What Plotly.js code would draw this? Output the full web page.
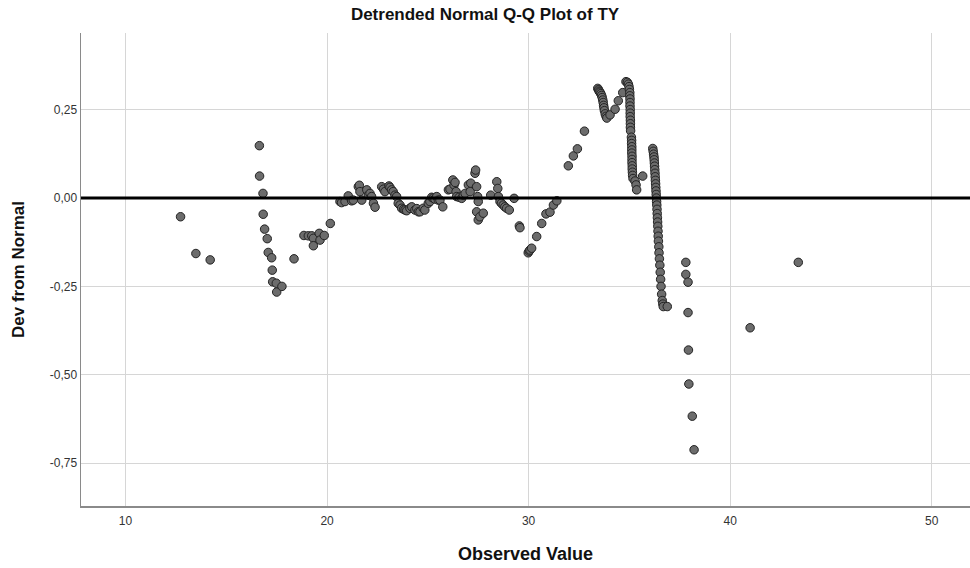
<!DOCTYPE html>
<html>
<head>
<meta charset="utf-8">
<script src="https://cdn.plot.ly/plotly-3.0.1.min.js"></script>
<style>html,body{margin:0;padding:0;background:#fff;}#chart{width:970px;height:568px;}</style>
</head>
<body>
<div id="chart"></div>
<script>
const observedValue = [
  12.73, 13.49, 14.20, 16.64, 16.65, 16.82, 16.83, 16.90, 17.03, 17.08, 17.25, 17.28, 17.30, 17.48, 17.50, 17.76,
  18.36, 18.85, 19.07, 19.24, 19.32, 19.32, 19.61, 19.65, 19.86, 20.16,
  20.64, 20.72, 20.89, 21.05, 21.22, 21.30, 21.55, 21.60, 21.63, 21.72, 21.97, 22.05, 22.13, 22.21, 22.30, 22.38,
  22.71, 22.80, 22.87, 23.07, 23.12, 23.20, 23.28, 23.37, 23.45, 23.53, 23.62, 23.70, 23.80, 23.87, 23.95,
  24.11, 24.20, 24.36, 24.45, 24.53, 24.61, 24.77, 24.85, 25.02, 25.10, 25.19, 25.27, 25.35, 25.44, 25.52, 25.60, 25.74,
  26.02, 26.10, 26.24, 26.30, 26.35, 26.40, 26.43, 26.55, 26.68, 26.76, 26.85, 27.01, 27.10, 27.13, 27.34, 27.37,
  27.42, 27.47, 27.50, 27.42, 27.50, 27.58, 27.75, 28.12, 28.42, 28.47, 28.50, 28.58, 28.65, 28.74, 28.82, 28.91,
  29.04, 29.28, 29.54, 29.57,
  29.98, 30.03, 30.07, 30.15, 30.40, 30.65, 30.86, 31.06, 31.23, 31.40, 31.97, 32.22, 32.42, 32.77,
  33.43, 33.47, 33.50, 33.54, 33.58, 33.62, 33.65, 33.68, 33.70, 33.72, 33.74, 33.76, 33.80, 33.84, 33.88,
  34.04, 34.29, 34.45, 34.67,
  34.83, 34.90, 34.95, 34.98, 35.00, 35.02, 35.02, 35.03, 35.03, 35.03, 35.04, 35.04, 35.04, 35.05, 35.05, 35.05, 35.06,
  35.10, 35.11, 35.11, 35.12, 35.12, 35.12, 35.13, 35.13, 35.13, 35.14, 35.14, 35.15, 35.16, 35.18,
  35.28, 35.33, 35.36, 35.66,
  36.16, 36.18, 36.20, 36.22, 36.23, 36.24, 36.25, 36.26, 36.27, 36.28, 36.29, 36.30, 36.31, 36.32, 36.33, 36.34,
  36.35, 36.36, 36.37, 36.38, 36.39, 36.40, 36.41, 36.42, 36.43, 36.44, 36.46, 36.47, 36.49, 36.51, 36.53, 36.55,
  36.57, 36.60, 36.63, 36.66, 36.68, 36.88,
  37.80, 37.80, 37.91, 37.91, 37.93, 37.95, 38.12, 38.21, 40.99, 43.38
];
const devFromNormal = [
  -0.053, -0.157, -0.175, 0.148, 0.062, 0.013, -0.046, -0.088, -0.115, -0.154, -0.169, -0.204, -0.237, -0.241, -0.266, -0.250,
  -0.172, -0.106, -0.107, -0.107, -0.114, -0.135, -0.100, -0.119, -0.106, -0.072,
  -0.010, -0.013, -0.010, 0.006, -0.008, -0.006, 0.032, 0.036, 0.018, -0.006, 0.023, 0.008, 0.013, 0.004, -0.015, -0.026,
  0.032, 0.025, 0.018, 0.034, 0.030, 0.023, 0.018, 0.008, 0.004, -0.015, -0.020, -0.029, -0.032, -0.034, -0.036,
  -0.029, -0.025, -0.034, -0.030, -0.039, -0.039, -0.029, -0.034, -0.015, -0.010, 0.002, 0.000, -0.003, 0.004, -0.006, -0.006, -0.025,
  0.023, 0.025, 0.051, 0.037, 0.044, 0.018, 0.004, 0.002, -0.001, 0.008, 0.013, 0.037, 0.018, 0.042, 0.070, 0.079,
  0.032, 0.004, -0.010, -0.039, -0.062, -0.053, -0.043, 0.008, 0.046, 0.027, 0.004, -0.010, -0.015, -0.020, -0.025, -0.029,
  -0.034, -0.001, -0.079, -0.084,
  -0.155, -0.150, -0.147, -0.142, -0.109, -0.072, -0.045, -0.040, -0.020, -0.008, 0.091, 0.119, 0.139, 0.189,
  0.310, 0.306, 0.302, 0.299, 0.295, 0.290, 0.284, 0.277, 0.270, 0.262, 0.255, 0.247, 0.238, 0.231, 0.226,
  0.235, 0.251, 0.275, 0.298,
  0.329, 0.327, 0.322, 0.315, 0.307, 0.298, 0.289, 0.280, 0.270, 0.260, 0.250, 0.240, 0.230, 0.220, 0.210, 0.200, 0.190,
  0.172, 0.163, 0.154, 0.145, 0.136, 0.127, 0.118, 0.109, 0.100, 0.091, 0.082, 0.073, 0.064, 0.055,
  0.048, 0.037, 0.023, 0.062,
  0.140, 0.132, 0.124, 0.116, 0.108, 0.099, 0.090, 0.080, 0.070, 0.060, 0.050, 0.040, 0.030, 0.020, 0.010, 0.000,
  -0.010, -0.020, -0.032, -0.044, -0.056, -0.068, -0.080, -0.094, -0.108, -0.122, -0.138, -0.155, -0.172, -0.190, -0.210, -0.230,
  -0.250, -0.272, -0.290, -0.300, -0.307, -0.307,
  -0.182, -0.216, -0.238, -0.324, -0.430, -0.526, -0.617, -0.712, -0.367, -0.182
];
const xTickVals = [10, 20, 30, 40, 50];
const xTickText = ["10", "20", "30", "40", "50"];
const yTickVals = [0.25, 0, -0.25, -0.5, -0.75];
const yTickText = ["0,25", "0,00", "-0,25", "-0,50", "-0,75"];

const FONT = "Liberation Sans, Arial, sans-serif";

const trace = {
  type: "scatter",
  mode: "markers",
  x: observedValue,
  y: devFromNormal,
  marker: {
    size: 8.5,
    color: "rgb(108,108,108)",
    line: { color: "rgb(35,35,35)", width: 1 }
  },
  hoverinfo: "x+y"
};

const layout = {
  width: 970,
  height: 568,
  paper_bgcolor: "#ffffff",
  plot_bgcolor: "#ffffff",
  margin: { l: 81, r: 0, t: 33, b: 62, pad: 0 },
  showlegend: false,
  font: { family: FONT, color: "#222" },
  title: {
    text: "<b>Detrended Normal Q-Q Plot of TY</b>",
    font: { family: FONT, size: 17, color: "#111" },
    xref: "container", x: 0.5, xanchor: "center",
    yref: "container", y: 1 - 14 / 568, yanchor: "middle"
  },
  xaxis: {
    range: [7.79, 51.9],
    tickvals: xTickVals,
    ticktext: xTickText,
    ticks: "",
    ticklabelstandoff: 3,
    showgrid: true,
    gridcolor: "#d6d6d6",
    gridwidth: 1,
    zeroline: false,
    showline: true,
    linecolor: "#8a8a8a",
    linewidth: 1.5,
    mirror: false,
    tickfont: { family: FONT, size: 12, color: "#333" },
    title: {
      text: "<b>Observed Value</b>",
      font: { family: FONT, size: 18, color: "#111" },
      standoff: 20
    },
    automargin: false,
    fixedrange: true
  },
  yaxis: {
    range: [-0.871, 0.4666],
    tickvals: yTickVals,
    ticktext: yTickText,
    ticks: "",
    showgrid: true,
    gridcolor: "#d6d6d6",
    gridwidth: 1,
    zeroline: false,
    showline: true,
    linecolor: "#8a8a8a",
    linewidth: 1.5,
    tickfont: { family: FONT, size: 12, color: "#333" },
    title: {
      text: "<b>Dev from Normal</b>",
      font: { family: FONT, size: 17, color: "#111" },
      standoff: 21
    },
    automargin: false,
    fixedrange: true
  },
  shapes: [{
    type: "line",
    xref: "paper", x0: 0, x1: 1,
    yref: "y", y0: 0, y1: 0,
    line: { color: "#000000", width: 3 },
    layer: "above"
  }]
};

Plotly.newPlot("chart", [trace], layout, { displayModeBar: false, staticPlot: true });
</script>
</body>
</html>
